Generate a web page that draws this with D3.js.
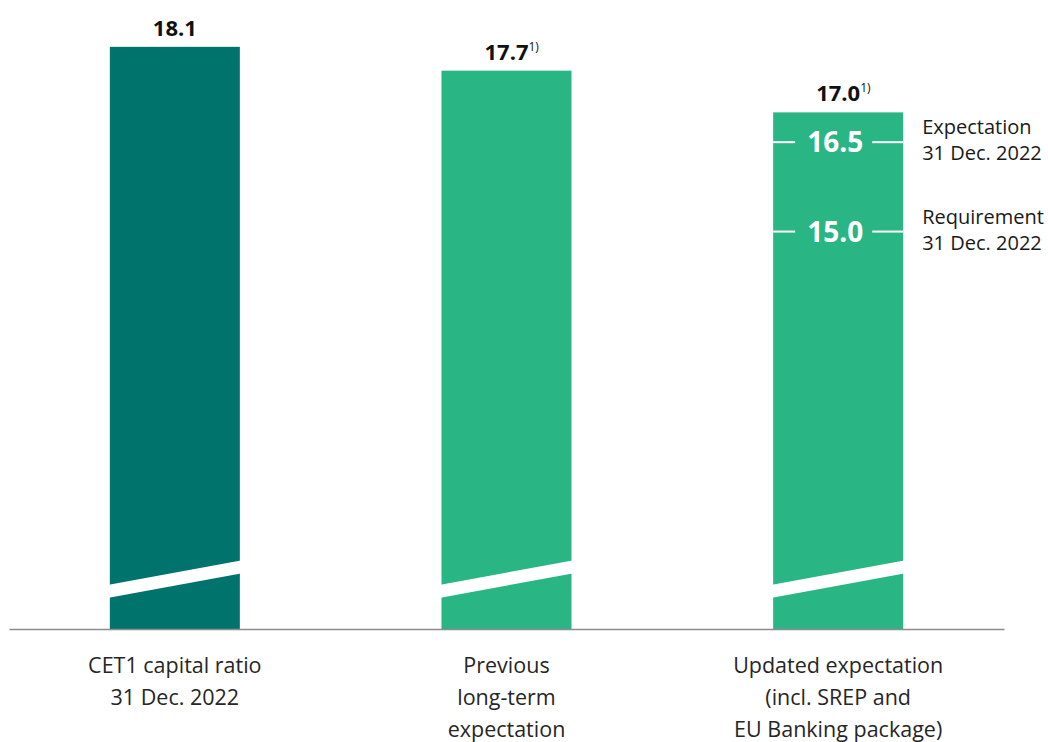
<!DOCTYPE html>
<html>
<head>
<meta charset="utf-8">
<script src="https://cdn.jsdelivr.net/npm/d3@7"></script>
<style>
  html, body { margin: 0; padding: 0; background: #fff; }
  svg { display: block; }
  text { font-family: "Open Sans", "Noto Sans", sans-serif; }
</style>
</head>
<body>
<svg id="chart" width="1048" height="742"></svg>
<script>
// CET1 capital ratio data (%)
const categories = [
  ["CET1 capital ratio", "31 Dec. 2022"],
  ["Previous", "long-term", "expectation"],
  ["Updated expectation", "(incl. SREP and", "EU Banking package)"]
];
const values = [18.1, 17.7, 17.0];
const valueLabels = ["18.1", "17.7", "17.0"];
const footnotes = ["", "1)", "1)"];
const barColors = ["#00736d", "#2ab584", "#2ab584"];

// reference levels drawn inside the last bar
const markers = [
  { value: 16.5, label: "16.5", note: ["Expectation", "31 Dec. 2022"] },
  { value: 15.0, label: "15.0", note: ["Requirement", "31 Dec. 2022"] }
];

const svg = d3.select("#chart");
const baseY = 629;

const x = d3.scaleBand()
  .domain(d3.range(values.length))
  .range([9, 1004])
  .paddingInner(0.608)
  .paddingOuter(0.304);

// truncated value axis (the bars carry a break mark)
const y = d3.scaleLinear()
  .domain([8.33, 18.5])
  .range([baseY, 23]);

const g = svg.append("g");

// bars
g.selectAll("rect.bar")
  .data(values)
  .join("rect")
  .attr("class", "bar")
  .attr("x", (d, i) => x(i))
  .attr("y", d => y(d))
  .attr("width", x.bandwidth())
  .attr("height", d => baseY - y(d))
  .attr("fill", (d, i) => barColors[i]);

// axis break: slanted white band across each bar
const breakLeft = 38, breakRight = 62, breakGap = 13;
g.selectAll("path.break")
  .data(values)
  .join("path")
  .attr("class", "break")
  .attr("d", (d, i) => {
    const x0 = x(i) - 1, x1 = x(i) + x.bandwidth() + 1;
    const yl = baseY - breakLeft, yr = baseY - breakRight;
    return `M${x0},${yl + breakGap / 2 + 0.2}L${x1},${yr + breakGap / 2}L${x1},${yr - breakGap / 2}L${x0},${yl - breakGap / 2 + 0.2}Z`;
  })
  .attr("fill", "#fff");

// baseline
const xAxis = d3.axisBottom(d3.scaleLinear().range([9, 1004])).ticks(0).tickSize(0).tickFormat("");
const axisG = svg.append("g").attr("transform", `translate(0,${baseY})`).call(xAxis);
axisG.select(".domain").attr("stroke", "#8c8c8c").attr("stroke-width", 1.6);

// value labels above bars
const vl = g.selectAll("text.value")
  .data(values)
  .join("text")
  .attr("class", "value")
  .attr("x", (d, i) => x(i) + x.bandwidth() / 2)
  .attr("y", d => y(d) - 11)
  .attr("text-anchor", "middle")
  .attr("font-size", 22)
  .attr("font-weight", 700)
  .attr("fill", "#111");
vl.append("tspan").text((d, i) => valueLabels[i]);
vl.append("tspan")
  .attr("font-size", 12)
  .attr("font-weight", 400)
  .attr("dy", -9)
  .text((d, i) => footnotes[i]);
// keep the number centred, the footnote hangs to the right
vl.each(function (d, i) {
  if (!footnotes[i]) return;
  const t = d3.select(this);
  const w = this.querySelector("tspan:last-child").getComputedTextLength();
  t.attr("x", x(i) + x.bandwidth() / 2 + w / 2);
});

// category labels
const cl = g.selectAll("text.cat")
  .data(categories)
  .join("text")
  .attr("class", "cat")
  .attr("x", (d, i) => x(i) + x.bandwidth() / 2)
  .attr("y", baseY + 44)
  .attr("text-anchor", "middle")
  .attr("font-size", 21.5)
  .attr("fill", "#262626");
cl.selectAll("tspan")
  .data(d => d)
  .join("tspan")
  .attr("x", function () { return this.parentNode.getAttribute("x"); })
  .attr("dy", (d, j) => j === 0 ? 0 : 32)
  .text(d => d);

// markers inside the last bar
const last = values.length - 1;
const bx0 = x(last), bx1 = x(last) + x.bandwidth(), bcx = (bx0 + bx1) / 2;
const mg = g.selectAll("g.marker")
  .data(markers)
  .join("g")
  .attr("class", "marker")
  .attr("transform", d => `translate(0,${y(d.value)})`);
mg.append("line").attr("x1", bx0).attr("x2", bcx - 43)
  .attr("stroke", "#fff").attr("stroke-width", 2);
mg.append("line").attr("x1", bcx + 34).attr("x2", bx1)
  .attr("stroke", "#fff").attr("stroke-width", 2);
mg.append("text")
  .attr("x", bcx - 3)
  .attr("y", 10)
  .attr("text-anchor", "middle")
  .attr("font-size", 28)
  .attr("font-weight", 700)
  .attr("fill", "#fff")
  .text(d => d.label);
const nt = mg.append("text")
  .attr("x", bx1 + 19)
  .attr("y", -8)
  .attr("font-size", 20)
  .attr("fill", "#1a1a1a");
nt.selectAll("tspan")
  .data(d => d.note)
  .join("tspan")
  .attr("x", bx1 + 19)
  .attr("dy", (d, j) => j === 0 ? 0 : 26)
  .text(d => d);
</script>
</body>
</html>
